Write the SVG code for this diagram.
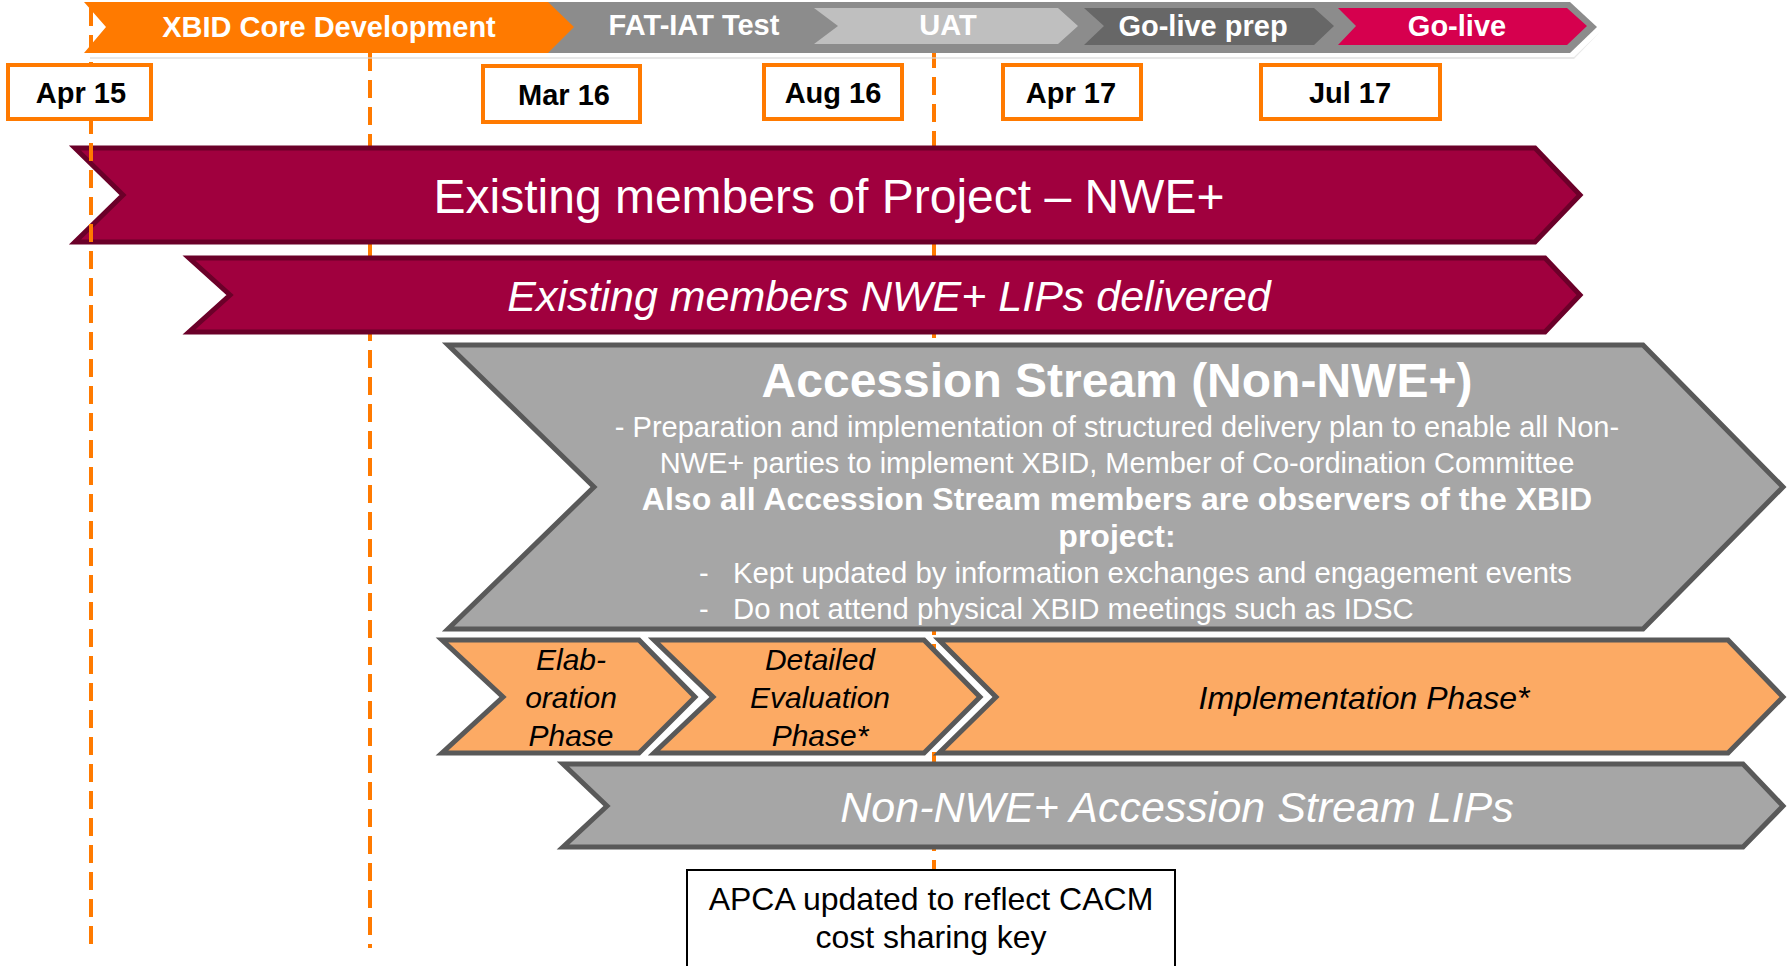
<svg xmlns="http://www.w3.org/2000/svg" width="1791" height="966" viewBox="0 0 1791 966">
<style>
text{font-family:"Liberation Sans",Arial,sans-serif}
.hdr{font-size:29px;font-weight:bold;fill:#fff;text-anchor:middle}
.date{font-size:29px;font-weight:bold;fill:#000;text-anchor:middle}
.datebox{fill:#fff;stroke:#FF7A00;stroke-width:4}
.dash{stroke:#FF7A00;stroke-width:4;stroke-dasharray:18 9;fill:none}
.crim{fill:#A0003E;stroke:#6B0029;stroke-width:5}
.gray{fill:#A6A6A6;stroke:#595959;stroke-width:5}
.phase{fill:#FCAA64;stroke:#595959;stroke-width:5}
.wt{fill:#fff;text-anchor:middle}
.bt{fill:#000;text-anchor:middle}
</style>
<rect width="1791" height="966" fill="#fff"/>

<g id="markers-back">
<line class="dash" x1="370" y1="53" x2="370" y2="948"/>
<line class="dash" x1="934" y1="50" x2="934" y2="870"/>
</g>

<g id="header">
<polygon points="90,57 1574,57 1600,32 1574,59 90,59" fill="#d9d9d9" opacity="0.6"/>
<polygon points="540,2 1570,2 1597,27 1570,53 540,53" fill="#8C8C8C"/>
<polygon points="84,2 548,2 574,27 548,53 84,53 106,27" fill="#FF7A00"/>
<polygon points="814,8 1058,8 1078,26 1058,44 814,44 838,26" fill="#BFBFBF"/>
<polygon points="1084,8 1314,8 1334,26 1314,45 1084,45 1104,26" fill="#676767"/>
<polygon points="1338,8 1567,8 1587,26 1567,45 1338,45 1356,26" fill="#D6004E"/>
<text class="hdr" x="329" y="37">XBID Core Development</text>
<text class="hdr" x="694" y="35">FAT-IAT Test</text>
<text class="hdr" x="948" y="35">UAT</text>
<text class="hdr" x="1203" y="36">Go-live prep</text>
<text class="hdr" x="1457" y="36">Go-live</text>
</g>

<g id="existing-members">
<polygon class="crim" points="75,148 1535,148 1580,195 1535,242 75,242 123,195"/>
<text class="wt" x="829" y="213" font-size="48">Existing members of Project – NWE+</text>
</g>

<g id="existing-lips">
<polygon class="crim" points="189,258 1545,258 1580,295 1545,332 189,332 230,295"/>
<text class="wt" x="889" y="311" font-size="43" font-style="italic">Existing members NWE+ LIPs delivered</text>
</g>

<g id="accession-stream">
<polygon class="gray" points="448,345 1643,345 1783,487 1643,629 448,629 594,487"/>
<text class="wt" x="1117" y="397" font-size="48" font-weight="bold">Accession Stream (Non-NWE+)</text>
<text class="wt" x="1117" y="437" font-size="29">- Preparation and implementation of structured delivery plan to enable all Non-</text>
<text class="wt" x="1117" y="473" font-size="29">NWE+ parties to implement XBID, Member of Co-ordination Committee</text>
<text class="wt" x="1117" y="510" font-size="32" font-weight="bold">Also all Accession Stream members are observers of the XBID</text>
<text class="wt" x="1117" y="547" font-size="32" font-weight="bold">project:</text>
<text fill="#fff" x="699" y="583" font-size="29">-</text>
<text fill="#fff" x="733" y="583" font-size="29.3">Kept updated by information exchanges and engagement events</text>
<text fill="#fff" x="699" y="619" font-size="29">-</text>
<text fill="#fff" x="733" y="619" font-size="29.3">Do not attend physical XBID meetings such as IDSC</text>
</g>

<g id="elaboration-phase">
<polygon class="phase" points="442,640 639,640 695,697 639,753 442,753 503,697"/>
<text class="bt" font-size="30" font-style="italic"><tspan x="571" y="670">Elab-</tspan><tspan x="571" y="708">oration</tspan><tspan x="571" y="746">Phase</tspan></text>
</g>

<g id="detailed-evaluation-phase">
<polygon class="phase" points="654,640 924,640 980,697 924,753 654,753 713,697"/>
<text class="bt" font-size="30" font-style="italic"><tspan x="820" y="670">Detailed</tspan><tspan x="820" y="708">Evaluation</tspan><tspan x="820" y="746">Phase*</tspan></text>
</g>

<g id="implementation-phase">
<polygon class="phase" points="939,640 1728,640 1783,697 1728,753 939,753 996,697"/>
<text class="bt" x="1364" y="709" font-size="32" font-style="italic">Implementation Phase*</text>
</g>

<g id="non-nwe-lips">
<polygon class="gray" points="563,764 1743,764 1783,806 1743,847 563,847 607,806"/>
<text class="wt" x="1177" y="822" font-size="43" font-style="italic">Non-NWE+ Accession Stream LIPs</text>
</g>

<g id="apca-note">
<rect x="687" y="870" width="488" height="110" fill="#fff" stroke="#000" stroke-width="2"/>
<text class="bt" font-size="32"><tspan x="931" y="910">APCA updated to reflect CACM</tspan><tspan x="931" y="948">cost sharing key</tspan></text>
</g>

<g id="markers-front">
<line class="dash" x1="91" y1="8" x2="91" y2="948"/>
</g>

<g id="dates">
<g id="date-apr15"><rect class="datebox" x="8" y="65" width="143" height="54"/><text class="date" x="81" y="103">Apr 15</text></g>
<g id="date-mar16"><rect class="datebox" x="483" y="66" width="157" height="56"/><text class="date" x="564" y="105">Mar 16</text></g>
<g id="date-aug16"><rect class="datebox" x="764" y="65" width="138" height="54"/><text class="date" x="833" y="103">Aug 16</text></g>
<g id="date-apr17"><rect class="datebox" x="1003" y="65" width="138" height="54"/><text class="date" x="1071" y="103">Apr 17</text></g>
<g id="date-jul17"><rect class="datebox" x="1261" y="65" width="179" height="54"/><text class="date" x="1350" y="103">Jul 17</text></g>
</g>
</svg>
